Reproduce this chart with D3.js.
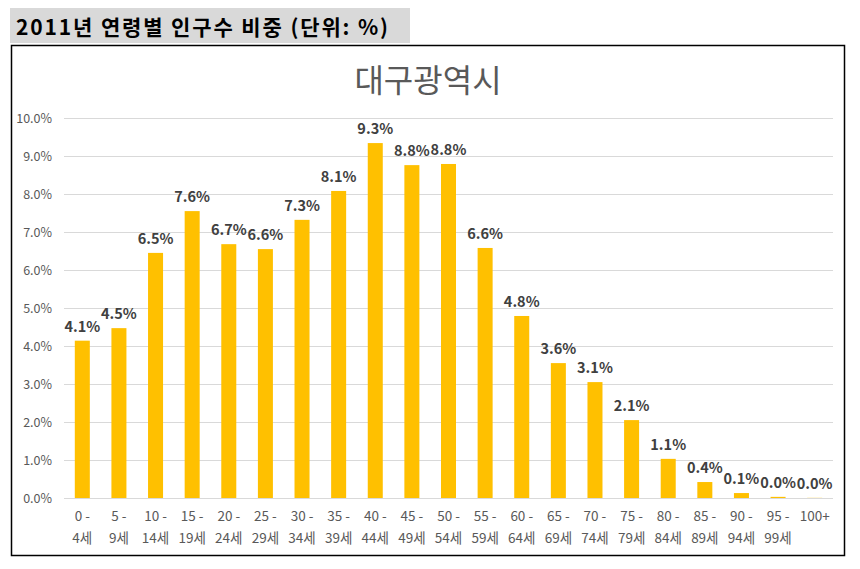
<!DOCTYPE html>
<html><head><meta charset="utf-8">
<script src="https://cdn.jsdelivr.net/npm/d3@7"></script>
<style>body{margin:0;background:#fff;} svg{display:block;}</style>
</head><body>
<script>
const categories = ["0 -|4세","5 -|9세","10 -|14세","15 -|19세","20 -|24세","25 -|29세","30 -|34세","35 -|39세","40 -|44세","45 -|49세","50 -|54세","55 -|59세","60 -|64세","65 -|69세","70 -|74세","75 -|79세","80 -|84세","85 -|89세","90 -|94세","95 -|99세","100+"];
const values = [4.14,4.47,6.45,7.55,6.68,6.55,7.32,8.08,9.34,8.76,8.79,6.58,4.79,3.55,3.05,2.05,1.03,0.42,0.13,0.03,0.004];
const labels = ["4.1%","4.5%","6.5%","7.6%","6.7%","6.6%","7.3%","8.1%","9.3%","8.8%","8.8%","6.6%","4.8%","3.6%","3.1%","2.1%","1.1%","0.4%","0.1%","0.0%","0.0%"];
const yTicks = [0,1,2,3,4,5,6,7,8,9,10];

const W=860,H=569;
const font='"Noto Sans CJK KR","Noto Sans",sans-serif';
const svg=d3.select("body").append("svg").attr("width",W).attr("height",H);

// header
svg.append("rect").attr("x",10).attr("y",8).attr("width",400).attr("height",35).attr("fill","#d9d9d9");
svg.append("text").attr("x",16).attr("y",35).attr("font-family",font).attr("font-size",21).attr("font-weight","bold").attr("fill","#000")
 .attr("textLength",372).attr("lengthAdjust","spacing").text("2011년 연령별 인구수 비중 (단위: %)");

// chart border
svg.append("rect").attr("x",11.5).attr("y",45.5).attr("width",833).attr("height",510).attr("fill","#fff").attr("stroke","#000").attr("stroke-width",1.5);

svg.append("text").attr("x",428).attr("y",92).attr("text-anchor","middle").attr("font-family",font).attr("font-size",32).attr("fill","#595959").text("대구광역시");

const x=d3.scaleBand().domain(categories).range([64,833]).paddingInner(0.59).paddingOuter(0.295);
const y=d3.scaleLinear().domain([0,10]).range([498,118]);

const g=svg.append("g");
g.selectAll("line.grid").data(yTicks).join("line").attr("class","grid")
 .attr("x1",64).attr("x2",833).attr("y1",d=>Math.round(y(d))+0.5).attr("y2",d=>Math.round(y(d))+0.5)
 .attr("stroke","#d9d9d9").attr("stroke-width",1);

g.selectAll("text.yt").data(yTicks).join("text").attr("class","yt")
 .attr("x",52).attr("y",d=>y(d)+4.5).attr("text-anchor","end").attr("font-family",font).attr("font-size",12.5).attr("fill","#595959")
 .text(d=>d.toFixed(1)+"%");

g.selectAll("rect.bar").data(values).join("rect").attr("class","bar")
 .attr("x",(d,i)=>x(categories[i])).attr("width",x.bandwidth())
 .attr("y",d=>y(d)).attr("height",d=>y(0)-y(d)).attr("fill","#ffc000");

g.selectAll("text.lbl").data(values).join("text").attr("class","lbl")
 .attr("x",(d,i)=>x(categories[i])+x.bandwidth()/2).attr("y",d=>y(d)-9)
 .attr("text-anchor","middle").attr("font-family",font).attr("font-size",14.5).attr("font-weight","bold").attr("fill","#404040")
 .text((d,i)=>labels[i]);

categories.forEach((c,i)=>{
  const parts=c.split("|");
  const cx=x(c)+x.bandwidth()/2;
  parts.forEach((p,j)=>{
    g.append("text").attr("x",cx).attr("y",521+j*22).attr("text-anchor","middle").attr("font-family",font).attr("font-size",13.5).attr("fill","#595959").text(p);
  });
});
</script>
</body></html>
